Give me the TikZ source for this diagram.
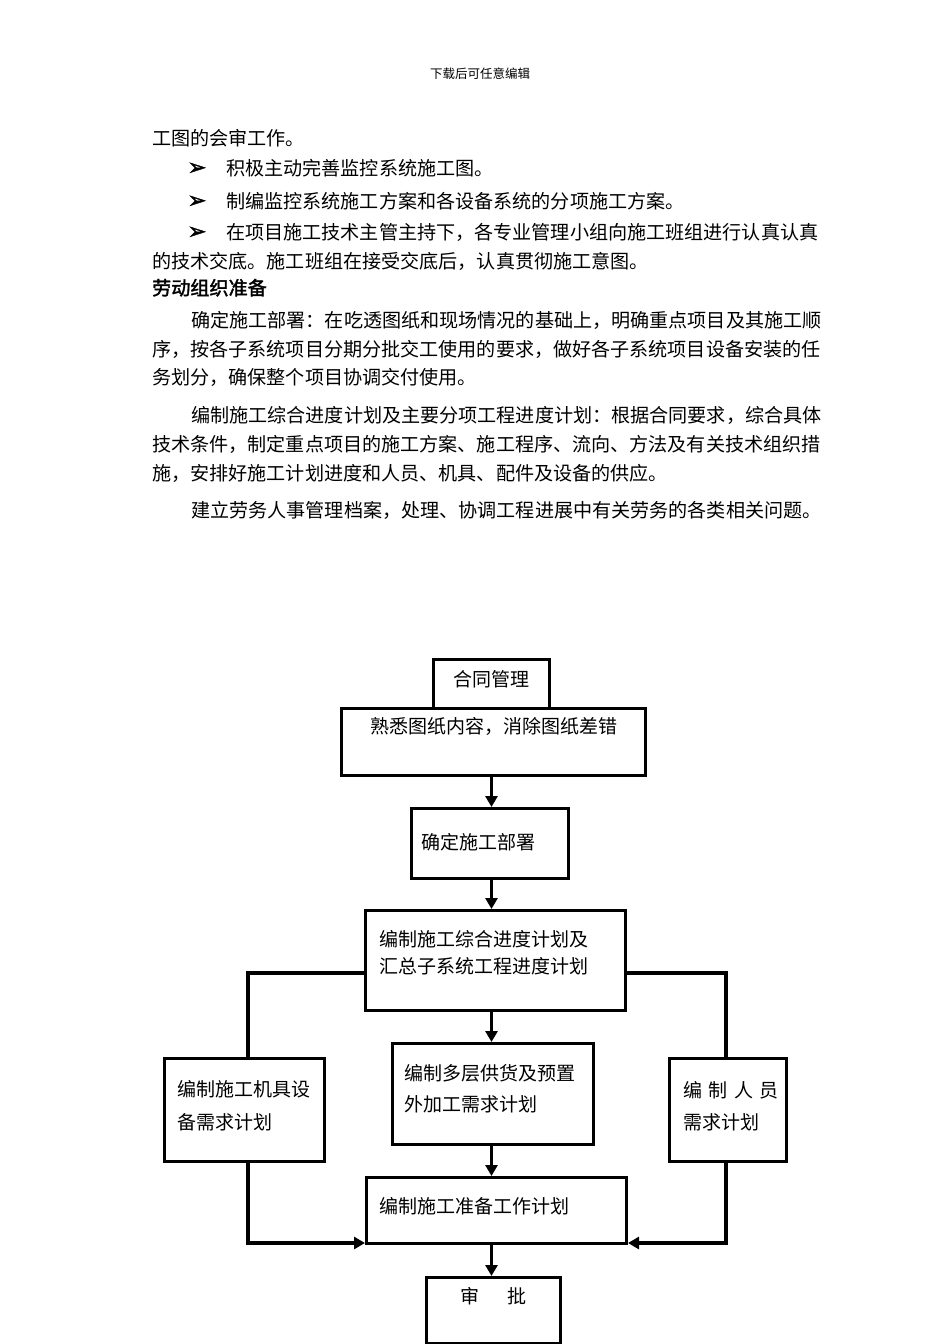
\documentclass[tikz,border=0pt]{standalone}
\usepackage{fontspec}
\setmainfont{Noto Sans CJK SC}
\newfontfamily\boldcjk[FakeBold=2]{Noto Sans CJK SC}
\newfontfamily\dingfont[FakeBold=1.5]{DejaVu Sans}
\usetikzlibrary{arrows.meta}
\newcommand*{\TextSize}{19.1}
\newcommand*{\PutLines}[1]{% #1 = list of x/y/text
  \foreach \x/\y/\text [count=\i] in {#1} {
    \node [anchor=base west, inner sep=0pt, font=\fontsize{\TextSize}{\TextSize}\selectfont]
      (line\i) at (\x,\y) {\text};
    }%
}

\begin{document}
\begin{tikzpicture}[x=1pt,y=-1pt,
    box/.style={draw, line width=3pt, anchor=north west, inner ysep=0pt,
      font=\fontsize{19}{31}\selectfont},
    link/.style={line width=3.2pt},
    flow/.style={link, -{Triangle[length=11pt,width=12pt]}}]
    \useasboundingbox (0,0) rectangle (950,1344);

    \node [anchor=base, font=\fontsize{12.5}{12.5}\selectfont] (header) at (480,78) {下载后可任意编辑};

    \PutLines{
        152/145/工图的会审工作。,
        226/175/积极主动完善监控系统施工图。,
        226/208/制编监控系统施工方案和各设备系统的分项施工方案。,
        226/239/在项目施工技术主管主持下，各专业管理小组向施工班组进行认真认真,
        152/268/的技术交底。施工班组在接受交底后，认真贯彻施工意图。,
        191/327/确定施工部署：在吃透图纸和现场情况的基础上，明确重点项目及其施工顺,
        152/356/序，按各子系统项目分期分批交工使用的要求，做好各子系统项目设备安装的任,
        152/384/务划分，确保整个项目协调交付使用。,
        191/422/编制施工综合进度计划及主要分项工程进度计划：根据合同要求，综合具体,
        152/451/技术条件，制定重点项目的施工方案、施工程序、流向、方法及有关技术组织措,
        152/480/施，安排好施工计划进度和人员、机具、配件及设备的供应。,
        191/517/建立劳务人事管理档案，处理、协调工程进展中有关劳务的各类相关问题。
    }
    \foreach \y [count=\i] in {175,208,239}
        \node [anchor=base, inner sep=0pt, font=\dingfont\fontsize{23}{23}\selectfont] (mark\i) at (197,\y) {➢};
    \node [anchor=base west, inner sep=0pt, font=\boldcjk\fontsize{19.1}{19.1}\selectfont] (title) at (152,295) {劳动组织准备};

    % flow chart
    \node [box, inner xsep=0pt, text width=116pt, align=center, text height=27pt, text depth=22pt] (hetong) at (432,658) {合同管理};
    \node [box, inner xsep=0pt, text width=304pt, align=center, text height=25pt, text depth=42pt] (shuxi) at (340,707) {熟悉图纸内容，消除图纸差错};
    \node [box, inner xsep=10pt, text width=137pt, align=left, text height=41pt, text depth=29pt] (queding) at (410,807) {确定施工部署};
    \node [box, inner xsep=14pt, text width=232pt, align=left, text height=36pt, text depth=64pt,
      font=\fontsize{19}{27}\selectfont] (zonghe) at (364,909) {编制施工综合进度计划及\\汇总子系统工程进度计划};
    \node [box, inner xsep=13pt, text width=134pt, align=left, text height=38pt, text depth=65pt,
      font=\fontsize{19}{33}\selectfont] (jiju) at (163,1057) {编制施工机具设\\备需求计划};
    \node [box, inner xsep=12pt, text width=177pt, align=left, text height=37pt, text depth=64pt] (gonghuo) at (391,1042) {编制多层供货及预置\\外加工需求计划};
    \node [box, inner xsep=14pt, text width=89pt, align=left, text height=39pt, text depth=64pt,
      font=\fontsize{19}{32}\selectfont] (renyuan) at (668,1057) {编~制~人~员\\需求计划};
    \node [box, inner xsep=13pt, text width=234pt, align=left, text height=36pt, text depth=30pt] (zhunbei) at (365,1176) {编制施工准备工作计划};
    \node [box, inner xsep=0pt, text width=134pt, align=center, text height=26pt, text depth=40pt] (shenpi) at (425,1276) {审\hspace{29pt}批};

    \coordinate (lt) at (248,973);
    \coordinate (rt) at (726,973);
    \coordinate (lb) at (248,1243);
    \coordinate (rb) at (726,1243);

    \draw [flow] (shuxi.south -| hetong) -- (queding.north -| hetong);
    \draw [flow] (queding.south -| hetong) -- (zonghe.north -| hetong);
    \draw [flow] (zonghe.south -| hetong) -- (gonghuo.north -| hetong);
    \draw [flow] (gonghuo.south -| hetong) -- (zhunbei.north -| hetong);
    \draw [flow] (zhunbei.south -| hetong) -- (shenpi.north -| hetong);

    \draw [link] (zonghe.west |- lt) -- (lt) -- (lt |- jiju.north);
    \draw [link] (zonghe.east |- rt) -- (rt) -- (rt |- renyuan.north);
    \draw [flow] (lt |- jiju.south) -- (lb) -- (lb -| zhunbei.west);
    \draw [flow] (rt |- renyuan.south) -- (rb) -- (rb -| zhunbei.east);
\end{tikzpicture}
\end{document}
